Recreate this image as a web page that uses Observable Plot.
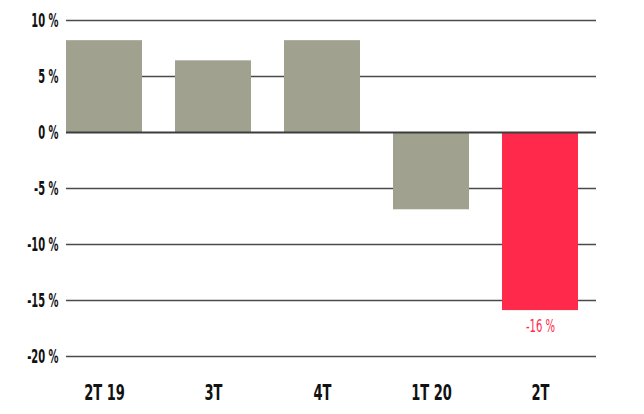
<!DOCTYPE html>
<html>
<head>
<meta charset="utf-8">
<script src="https://cdn.jsdelivr.net/npm/d3@7"></script>
<script src="https://cdn.jsdelivr.net/npm/@observablehq/plot@0.6"></script>
<style>
  body { margin: 0; background: #fff; }
  #chart text {
    font-family: "DejaVu Sans", sans-serif;
    font-stretch: condensed;
  }
</style>
</head>
<body>
<div id="chart"></div>
<script>
// quarters and change in %
const quarters = ["2T 19", "3T", "4T", "1T 20", "2T"];
const values = [8.2, 6.4, 8.2, -6.9, -15.9];
const colors = ["#a0a28f", "#a0a28f", "#a0a28f", "#a0a28f", "#ff2a4b"];
const yTicks = [10, 5, 0, -5, -10, -15, -20];
const labels = ["", "", "", "", "-16 %"];

const data = quarters.map((q, i) => ({q, v: values[i], c: colors[i], label: labels[i]}));

const plot = Plot.plot({
  width: 644,
  height: 414,
  marginTop: 20,
  marginBottom: 58,
  marginLeft: 66,
  marginRight: 48,
  x: {domain: quarters, paddingInner: 0.3, paddingOuter: 0.08, align: 0, label: null, axis: null},
  y: {domain: [-20, 10], label: null, axis: null},
  marks: [
    Plot.ruleY(yTicks.filter(d => d !== 0), {stroke: "#4a4a4a", strokeWidth: 1.3}),
    Plot.barY(data, {x: "q", y: "v", fill: "c"}),
    Plot.ruleY([0], {stroke: "#3d3d3d", strokeWidth: 2}),
    Plot.axisY(yTicks, {
      tickFormat: d => d + " %", tickSize: 0, tickPadding: 8, label: null,
      fontSize: 19, fontWeight: "bold", fill: "#111"
    }),
    Plot.text(data, {
      x: "q", y: -20, text: "q", dy: 36, fontSize: 22, fontWeight: "bold", fill: "#111"
    }),
    Plot.text(data, {
      x: "q", y: "v", text: "label", dy: 16, fontSize: 18, fill: "#ff2a4b"
    })
  ]
});

// squeeze the text horizontally around its anchor to get the narrow look
plot.querySelectorAll("g[aria-label]").forEach(g => {
  const a = g.getAttribute("aria-label");
  let s = null;
  if (a.includes("y-axis tick label")) s = 0.58;
  else if (a === "text") s = g.textContent.includes("%") ? 0.62 : 0.66;
  if (s == null) return;
  g.querySelectorAll("text").forEach(t => {
    const x = parseFloat(t.getAttribute("x")) || 0;
    const tr = t.getAttribute("transform") || "";
    t.setAttribute("transform", `${tr} translate(${x},0) scale(${s},1) translate(${-x},0)`);
  });
});
document.querySelector("#chart").append(plot);
</script>
</body>
</html>
